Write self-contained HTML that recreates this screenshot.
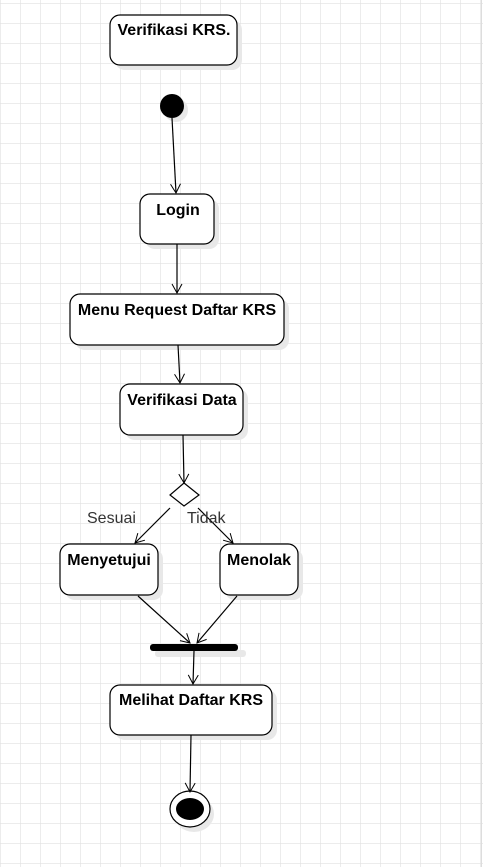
<!DOCTYPE html>
<html><head><meta charset="utf-8"><style>
html,body{margin:0;padding:0;background:#fff;}
svg{display:block;}
text{font-family:"Liberation Sans",Arial,sans-serif;}
.b{font-weight:bold;font-size:16px;fill:#000;text-anchor:middle;}
.n{font-size:16px;fill:#333;}
</style></head><body>
<svg width="483" height="867" viewBox="0 0 483 867" xmlns="http://www.w3.org/2000/svg">
<defs>
<pattern id="g" width="20" height="20" patternUnits="userSpaceOnUse" x="0" y="3">
<path d="M0 0H20M0 0V20" stroke="#e0e0e0" stroke-width="1.2" fill="none"/>
</pattern>
<marker id="a" markerWidth="12" markerHeight="12" refX="10" refY="6" orient="auto" markerUnits="userSpaceOnUse">
<path d="M1 1L10 6L1 11" fill="none" stroke="#000" stroke-width="1"/>
</marker>
</defs>
<rect width="483" height="867" fill="url(#g)"/>
<line x1="481.5" y1="0" x2="481.5" y2="867" stroke="#ddd"/>
<g fill="#e8e8e8">
<rect x="115" y="20" width="127" height="50" rx="10"/>
<rect x="145" y="199" width="74" height="50" rx="10"/>
<rect x="75" y="299" width="214" height="51" rx="10"/>
<rect x="125" y="389" width="123" height="51" rx="10"/>
<rect x="65" y="549" width="98" height="51" rx="10"/>
<rect x="225" y="549" width="78" height="51" rx="10"/>
<rect x="115" y="690" width="162" height="50" rx="10"/>
<circle cx="176" cy="110" r="12"/>
<ellipse cx="194" cy="814" rx="20" ry="18"/>
<rect x="155" y="650" width="91" height="7" rx="3"/>
</g>
<g fill="#fff" stroke="#000" stroke-width="1.2">
<rect x="110" y="15" width="127" height="50" rx="10"/>
<rect x="140" y="194" width="74" height="50" rx="10"/>
<rect x="70" y="294" width="214" height="51" rx="10"/>
<rect x="120" y="384" width="123" height="51" rx="10"/>
<rect x="60" y="544" width="98" height="51" rx="10"/>
<rect x="220" y="544" width="78" height="51" rx="10"/>
<rect x="110" y="685" width="162" height="50" rx="10"/>
<polygon points="184,483 199,495 184,506 170,495"/>
<ellipse cx="190" cy="809" rx="20" ry="18"/>
</g>
<circle cx="172" cy="106" r="12" fill="#000"/>
<ellipse cx="190" cy="809" rx="14" ry="11" fill="#000"/>
<rect x="150" y="644" width="88" height="7" rx="3" fill="#000"/>
<g stroke="#000" stroke-width="1.2" marker-end="url(#a)">
<line x1="172" y1="118" x2="176" y2="193"/>
<line x1="177" y1="244" x2="177" y2="293"/>
<line x1="178" y1="345" x2="180" y2="383"/>
<line x1="183" y1="435" x2="184" y2="483"/>
<line x1="170" y1="508" x2="135" y2="543"/>
<line x1="198" y1="508" x2="233" y2="543"/>
<line x1="138" y1="596" x2="190" y2="643"/>
<line x1="237" y1="596" x2="197" y2="643"/>
<line x1="194" y1="651" x2="193" y2="684"/>
<line x1="191" y1="735" x2="190" y2="792"/>
</g>
<text class="b" x="174" y="35">Verifikasi KRS.</text>
<text class="b" x="178" y="215">Login</text>
<text class="b" x="177" y="315">Menu Request Daftar KRS</text>
<text class="b" x="182" y="405">Verifikasi Data</text>
<text class="b" x="109" y="565">Menyetujui</text>
<text class="b" x="259" y="565">Menolak</text>
<text class="b" x="191" y="705">Melihat Daftar KRS</text>
<text class="n" x="87" y="523">Sesuai</text>
<text class="n" x="187" y="523">Tidak</text>
</svg>
</body></html>
